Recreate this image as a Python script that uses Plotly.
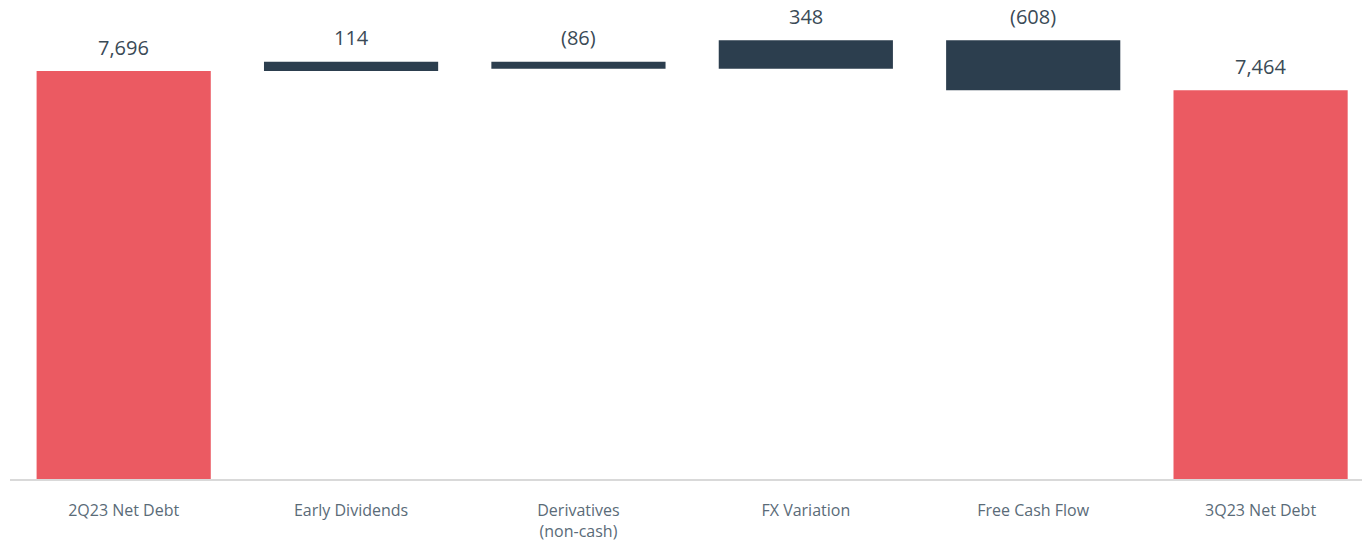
import plotly.graph_objects as go

categories = ["2Q23 Net Debt", "Early Dividends", "Derivatives<br>(non-cash)",
              "FX Variation", "Free Cash Flow", "3Q23 Net Debt"]
values = [7696, 114, -86, 348, -608, 7464]
measures = ["absolute", "relative", "relative", "relative", "relative", "total"]
labels = ["7,696", "114", "(86)", "348", "(608)", "7,464"]

RED = "#EB5A62"
DARK = "#2C3E4E"
TEXT = "#3A4A56"
AXIS_TEXT = "#5A6B78"
FONT = "Open Sans"

fig = go.Figure(go.Waterfall(
    x=categories,
    y=values,
    measure=measures,
    increasing=dict(marker=dict(color=DARK)),
    decreasing=dict(marker=dict(color=DARK)),
    totals=dict(marker=dict(color=RED)),
    connector=dict(visible=False),
    textposition="none",
    hoverinfo="skip",
))

# compute bar tops for label annotations
run = 0
tops = []
for v, m in zip(values, measures):
    if m in ("absolute", "total"):
        run = v
        tops.append(v)
    else:
        prev = run
        run = run + v
        tops.append(max(prev, run))

for c, t, lab in zip(categories, tops, labels):
    fig.add_annotation(x=c, y=t, text=lab, showarrow=False, yanchor="middle",
                       yshift=24, font=dict(family=FONT, size=20, color=TEXT))

fig.update_layout(
    width=1362, height=542,
    margin=dict(l=10, r=0, t=0, b=55),
    paper_bgcolor="white", plot_bgcolor="white",
    waterfallgap=0.234,
    showlegend=False,
    xaxis=dict(showline=True, linecolor="#D9D9D9", linewidth=2,
               ticks="outside", ticklen=16, tickcolor="rgba(0,0,0,0)",
               tickfont=dict(family=FONT, size=16, color=AXIS_TEXT),
               range=[-0.5, 5.446], showgrid=False, zeroline=False),
    yaxis=dict(visible=False, range=[2740, 8560], showgrid=False, zeroline=False),
)

fig.write_html("out.html")
